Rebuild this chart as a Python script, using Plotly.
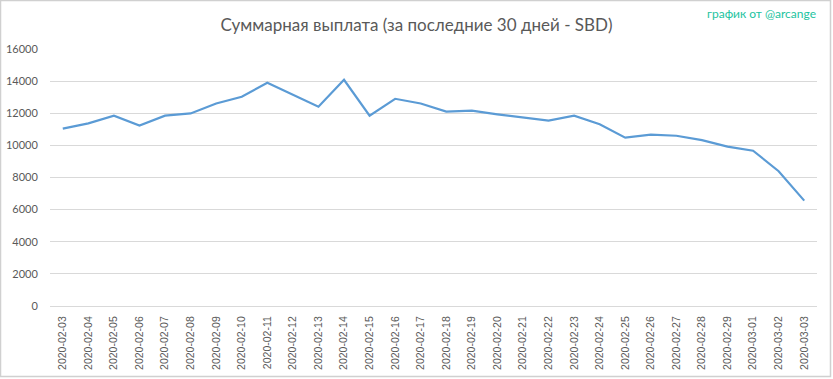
import plotly.graph_objects as go

dates = ["2020-02-03", "2020-02-04", "2020-02-05", "2020-02-06", "2020-02-07",
         "2020-02-08", "2020-02-09", "2020-02-10", "2020-02-11", "2020-02-12",
         "2020-02-13", "2020-02-14", "2020-02-15", "2020-02-16", "2020-02-17",
         "2020-02-18", "2020-02-19", "2020-02-20", "2020-02-21", "2020-02-22",
         "2020-02-23", "2020-02-24", "2020-02-25", "2020-02-26", "2020-02-27",
         "2020-02-28", "2020-02-29", "2020-03-01", "2020-03-02", "2020-03-03"]
payout = [11040, 11370, 11850, 11230, 11850,
          11990, 12610, 13030, 13900, 13160,
          12410, 14080, 11850, 12900, 12610,
          12100, 12160, 11930, 11720, 11540,
          11850, 11310, 10480, 10670, 10600,
          10330, 9920, 9670, 8390, 6560]
y_ticks = [0, 2000, 4000, 6000, 8000, 10000, 12000, 14000, 16000]

title_text = "Суммарная выплата (за последние 30 дней - SBD)"
credit_text = "график от @arcange"

fig = go.Figure()
fig.add_trace(go.Scatter(
    x=dates, y=payout, mode="lines",
    line=dict(color="#5b9bd5", width=2.2),
    hoverinfo="x+y",
))

W, H = 833, 379
ml, mr, mt, mb = 50, 16, 49, 73
pw = W - ml - mr
ph = H - mt - mb

fig.update_layout(
    width=W, height=H,
    margin=dict(l=ml, r=mr, t=mt, b=mb, pad=0, autoexpand=False),
    paper_bgcolor="white", plot_bgcolor="white",
    showlegend=False,
    font=dict(family="Lato, 'Open Sans', sans-serif", color="#595959"),
    title=dict(text=title_text, x=0.5, xanchor="center", y=1 - 25 / H, yanchor="middle",
               font=dict(size=17, color="#595959", family="Lato, 'Open Sans', sans-serif")),
    xaxis=dict(
        type="category", tickangle=-90, showgrid=False, automargin=False,
        showline=True, linecolor="#d9d9d9", linewidth=1,
        ticks="outside", ticklen=5, tickcolor="rgba(0,0,0,0)",
        tickfont=dict(size=10.5, color="#595959", family="Liberation Sans, Arial, sans-serif"),
        range=[-0.5, len(dates) - 0.5], fixedrange=True,
    ),
    yaxis=dict(
        range=[0, 16000], tickvals=y_ticks, ticktext=[str(v) for v in y_ticks],
        showgrid=True, gridcolor="#d9d9d9", gridwidth=1, automargin=False,
        zeroline=False, showline=False, ticks="outside", ticklen=9, tickcolor="rgba(0,0,0,0)",
        tickfont=dict(size=11, color="#595959", family="Lato, 'Open Sans', sans-serif"),
        fixedrange=True,
    ),
    annotations=[dict(
        text=credit_text, xref="paper", yref="paper",
        x=1 + 1 / pw, y=1 + (mt - 13) / ph, xanchor="right", yanchor="middle",
        showarrow=False, font=dict(size=12, color="#22c3a0", family="Lato, 'Open Sans', sans-serif"),
    )],
    shapes=[dict(
        type="rect", xref="paper", yref="paper",
        x0=-(ml - 0.5) / pw, x1=1 + (mr - 2.5) / pw,
        y0=-(mb - 2.5) / ph, y1=1 + (mt - 0.5) / ph,
        line=dict(color="#d0d0d0", width=1.5), fillcolor="rgba(0,0,0,0)", layer="below",
    )],
)

fig.write_html("out.html", config={"displayModeBar": False},
               post_script="document.body.style.margin='0';document.body.style.overflow='hidden';")
